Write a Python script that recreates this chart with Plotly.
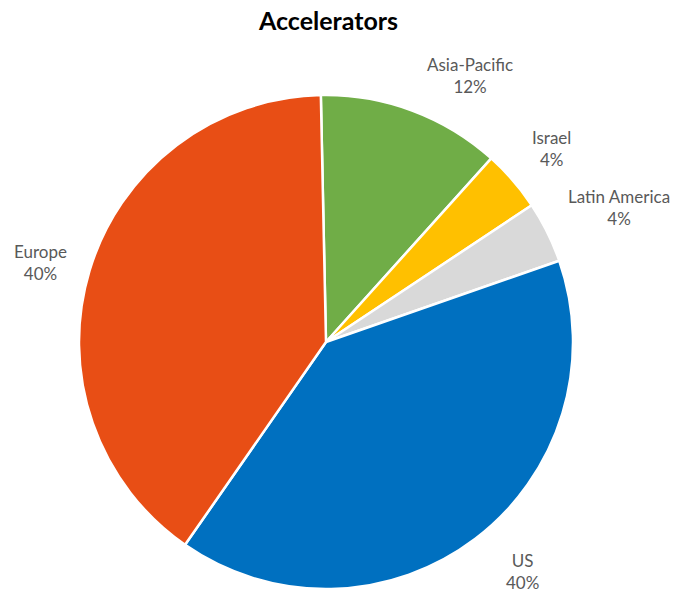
import plotly.graph_objects as go

# Share of accelerators by region (percent)
regions = ["Asia-Pacific", "Israel", "Latin America", "US", "Europe"]
shares = [12, 4, 4, 40, 40]
colors = ["#70AD47", "#FFC000", "#D9D9D9", "#0070C0", "#E84E15"]

W, H = 675, 592
cx, cy, r = 326.0, 342.0, 247.0   # pie centre and radius in pixels
start_deg = -1.2                  # first slice starts just left of 12 o'clock

fig = go.Figure(go.Pie(
    labels=regions,
    values=shares,
    sort=False,
    direction="clockwise",
    rotation=start_deg,
    marker=dict(colors=colors, line=dict(color="white", width=2.5)),
    textinfo="none",
    hoverinfo="label+percent",
    domain=dict(x=[(cx - r) / W, (cx + r) / W], y=[1 - (cy + r) / H, 1 - (cy - r) / H]),
    showlegend=False,
))

# Outside label anchor points (pixel centres of each two-line label)
label_pos = [(470, 75), (551, 148), (619, 208), (522, 571), (40, 262)]
annotations = []
for name, v, (px, py) in zip(regions, shares, label_pos):
    annotations.append(dict(
        x=px / W, y=1 - py / H, xref="paper", yref="paper",
        text=f"{name}<br>{v}%", showarrow=False,
        xanchor="center", yanchor="middle", align="center",
        font=dict(family="Lato, Open Sans, sans-serif", size=17, color="#595959"),
    ))

annotations.append(dict(
    x=328 / W, y=1 - 20 / H, xref="paper", yref="paper",
    text="<b>Accelerators</b>", showarrow=False,
    xanchor="center", yanchor="middle",
    font=dict(family="Lato, Open Sans, sans-serif", size=25, color="#000000"),
))

fig.update_layout(
    width=W, height=H,
    margin=dict(l=0, r=0, t=0, b=0),
    paper_bgcolor="white",
    plot_bgcolor="white",
    annotations=annotations,
)

fig.write_html("out.html")
